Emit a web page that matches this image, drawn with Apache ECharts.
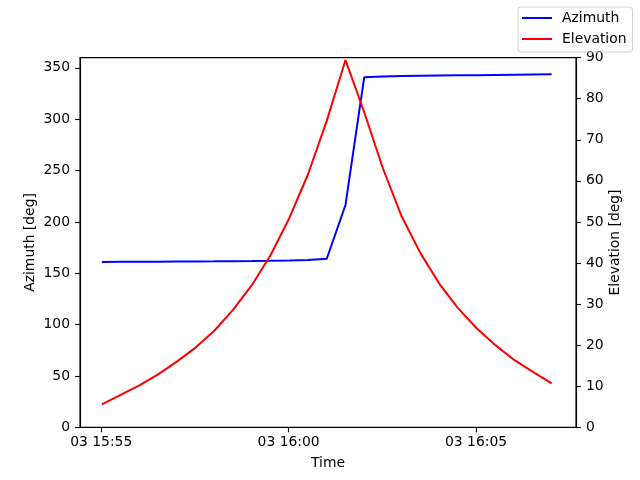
<!DOCTYPE html>
<html>
<head>
<meta charset="utf-8">
<script src="https://cdn.jsdelivr.net/npm/echarts@6/dist/echarts.min.js"></script>
<style>
  html, body { margin: 0; padding: 0; background: #fff; }
  #chart { width: 640px; height: 480px; }
</style>
</head>
<body>
<div id="chart"></div>
<script>
// sample times (30 s steps)
const times = [
  '15:55:01', '15:55:31', '15:56:01', '15:56:31', '15:57:01', '15:57:31',
  '15:58:01', '15:58:31', '15:59:01', '15:59:31', '16:00:01', '16:00:31',
  '16:01:01', '16:01:31', '16:02:01', '16:02:31', '16:03:01', '16:03:31',
  '16:04:01', '16:04:31', '16:05:01', '16:05:31', '16:06:01', '16:06:31',
  '16:07:01'
]
const azimuth = [
  161.0, 161.1, 161.2, 161.3, 161.4, 161.5, 161.6, 161.8, 161.9, 162.1,
  162.4, 162.9, 164.1, 216.5, 340.9, 341.6, 342.0, 342.3, 342.5, 342.7,
  342.9, 343.1, 343.3, 343.5, 343.7
]
const elevation = [
  5.6, 7.9, 10.2, 12.9, 16.0, 19.4, 23.5, 28.6, 34.6, 41.9,
  50.9, 61.6, 74.6, 89.4, 76.7, 63.0, 51.3, 42.4, 35.0, 29.0,
  24.1, 20.0, 16.4, 13.5, 10.7
]
const timeTicks = ['15:55:00', '16:00:00', '16:05:00']
const timeTickLabels = ['03 15:55', '03 16:00', '03 16:05']
const azTicks = [0, 50, 100, 150, 200, 250, 300, 350]
const xStart = '15:54:26'
const xEnd = '16:07:40'

// time of day -> minutes after 15:55:00
const toMin = (s) => {
  const [h, m, sec] = s.split(':').map(Number)
  return (h * 3600 + m * 60 + sec - (15 * 3600 + 55 * 60)) / 60
}
const tickMin = timeTicks.map(toMin)

const font = 'DejaVu Sans'
const fs = 13.9

const chart = echarts.init(document.getElementById('chart'), null, { renderer: 'canvas' })
const option = {
  animation: false,
  textStyle: { fontFamily: font, color: '#000' },
  legend: {
    orient: 'vertical',
    left: 518,
    top: 7,
    padding: [4, 6, 6, 4],
    itemGap: 7,
    itemWidth: 30,
    itemHeight: 2,
    icon: 'rect',
    borderColor: '#d0d0d0',
    borderWidth: 1,
    borderRadius: 3,
    textStyle: { fontFamily: font, fontSize: fs, color: '#000', padding: [0, 0, 0, 5] },
    data: ['Azimuth', 'Elevation']
  },
  grid: {
    left: 80,
    right: 64,
    top: 57.6,
    bottom: 52.7,
    show: true,
    borderColor: '#000',
    borderWidth: 1.1
  },
  xAxis: {
    type: 'value',
    min: toMin(xStart),
    max: toMin(xEnd),
    name: 'Time',
    nameLocation: 'middle',
    nameGap: 29,
    nameTextStyle: { fontFamily: font, fontSize: fs, color: '#000' },
    axisLine: { onZero: false, lineStyle: { color: '#000', width: 1.1 } },
    axisTick: { show: true, inside: false, length: 4.9, customValues: tickMin, lineStyle: { color: '#000', width: 1.1 } },
    axisLabel: {
      customValues: tickMin,
      margin: 8,
      fontFamily: font,
      fontSize: fs,
      color: '#000',
      formatter: (v) => {
        const i = tickMin.findIndex((t) => Math.abs(t - v) < 1e-6)
        return i >= 0 ? timeTickLabels[i] : ''
      }
    },
    splitLine: { show: false }
  },
  yAxis: [
    {
      type: 'value',
      min: 0,
      max: 360,
      position: 'left',
      name: 'Azimuth [deg]',
      nameLocation: 'middle',
      nameGap: 43,
      nameMoveOverlap: false,
      nameTextStyle: { fontFamily: font, fontSize: fs, color: '#000' },
      axisLine: { show: true, onZero: false, lineStyle: { color: '#000', width: 1.1 } },
      axisTick: { show: true, inside: false, length: 4.9, customValues: azTicks, lineStyle: { color: '#000', width: 1.1 } },
      axisLabel: { customValues: azTicks, margin: 10, fontFamily: font, fontSize: fs, color: '#000' },
      splitLine: { show: false }
    },
    {
      type: 'value',
      min: 0,
      max: 90,
      interval: 10,
      position: 'right',
      name: 'Elevation [deg]',
      nameLocation: 'middle',
      nameGap: 32,
      nameMoveOverlap: false,
      nameTextStyle: { fontFamily: font, fontSize: fs, color: '#000' },
      axisLine: { show: true, onZero: false, lineStyle: { color: '#000', width: 1.1 } },
      axisTick: { show: true, inside: false, length: 4.9, lineStyle: { color: '#000', width: 1.1 } },
      axisLabel: { margin: 10, fontFamily: font, fontSize: fs, color: '#000' },
      splitLine: { show: false }
    }
  ],
  series: [
    {
      name: 'Azimuth',
      type: 'line',
      yAxisIndex: 0,
      showSymbol: false,
      color: '#0000ff',
      lineStyle: { color: '#0000ff', width: 2 },
      data: times.map((t, i) => [toMin(t), azimuth[i]])
    },
    {
      name: 'Elevation',
      type: 'line',
      yAxisIndex: 1,
      showSymbol: false,
      color: '#ff0000',
      lineStyle: { color: '#ff0000', width: 2 },
      data: times.map((t, i) => [toMin(t), elevation[i]])
    }
  ]
}
option && chart.setOption(option)
</script>
</body>
</html>
